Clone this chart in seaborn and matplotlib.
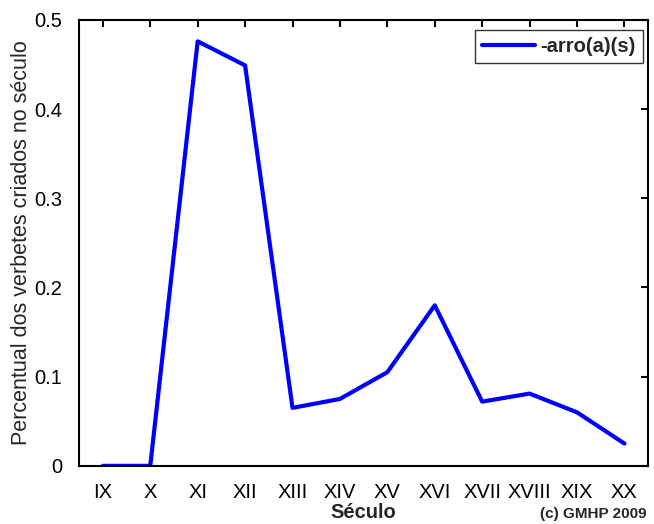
import pandas as pd
import seaborn as sns
import matplotlib
matplotlib.use("Agg")
import matplotlib.pyplot as plt

# values
seculos = ["IX", "X", "XI", "XII", "XIII", "XIV", "XV", "XVI", "XVII", "XVIII", "XIX", "XX"]
posicao = [9, 10, 11, 12, 13, 14, 15, 16, 17, 18, 19, 20]
percentual = [0.0, 0.0, 0.476, 0.449, 0.065, 0.075, 0.105, 0.180, 0.072, 0.081, 0.060, 0.025]

df = pd.DataFrame({"pos": posicao, "pct": percentual, "serie": "-arro(a)(s)"})

sns.set_theme(style="white")
plt.rcParams["font.family"] = ["Liberation Sans", "DejaVu Sans"]

fig = plt.figure(figsize=(6.54, 5.24), dpi=100)
ax = fig.add_axes([0.121, 0.111, 0.870, 0.851])

sns.lineplot(data=df, x="pos", y="pct", hue="serie", palette=["#0000ff"],
             linewidth=3.0, ax=ax, legend=True)

ax.set_xlim(8.5, 20.5)
ax.set_ylim(0, 0.5)
ax.set_xticks(posicao)
ax.set_xticklabels(seculos)
ax.set_yticks([0, 0.1, 0.2, 0.3, 0.4, 0.5])
ax.set_yticklabels(["0", "0.1", "0.2", "0.3", "0.4", "0.5"])
ax.tick_params(direction="in", length=5, width=1.5, top=True, right=True,
               labelsize=14.5, colors="black")
ax.tick_params(axis="x", pad=12)
ax.tick_params(axis="y", pad=12)
for s in ax.spines.values():
    s.set_color("black")
    s.set_linewidth(1.5)

ax.set_xlabel("Século", fontsize=14.5, fontweight="bold", labelpad=1)
ax.set_ylabel("Percentual dos verbetes criados no século", fontsize=15.5, labelpad=2)

leg = ax.legend(loc="upper right", bbox_to_anchor=(0.991, 0.978), borderaxespad=0,
                fontsize=14.5, frameon=True, fancybox=False,
                handlelength=2.6, handletextpad=0.3, borderpad=0.35)
leg.get_frame().set_edgecolor("black")
leg.get_frame().set_linewidth(1.0)
for t in leg.get_texts():
    t.set_fontweight("bold")

fig.text(0.988, 0.006, "(c) GMHP 2009", ha="right", va="bottom",
         fontsize=11, fontweight="bold")

fig.savefig("out.png", dpi=100)
